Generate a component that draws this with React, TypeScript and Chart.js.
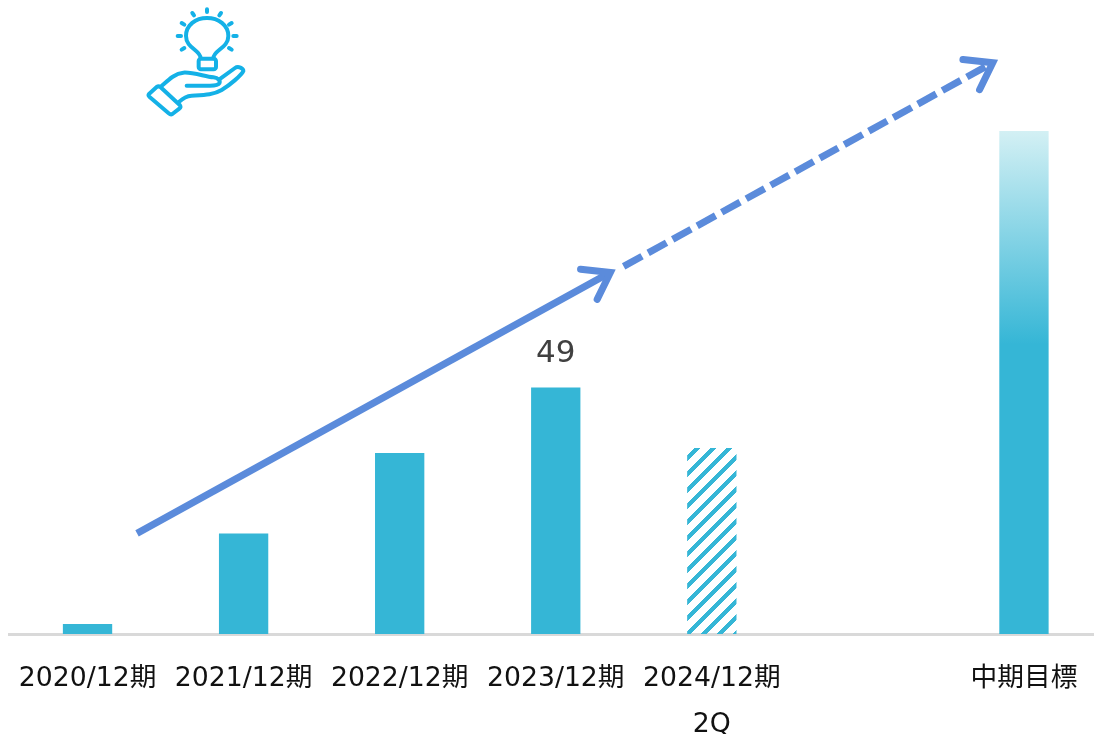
import React, { useEffect, useRef } from "react";
import { Chart, registerables } from "chart.js";

Chart.register(...registerables);

const categories: (string | string[])[] = [
  "2020/12期",
  "2021/12期",
  "2022/12期",
  "2023/12期",
  ["2024/12期", "2Q"],
  "",
  "中期目標",
];
const barValues = [2, 20, 36, 49, 37, null, 100];
const valueLabels = [null, null, null, "49", null, null, null];
const hatchedIndex = 4;
const fadedIndex = 6;
const fadeStartValue = 57.6;

// Trend arrows in axis units: [category position, value]
const solidArrow = [[0.317, 20], [3.35, 71.9]];
const dashedArrow = [[3.435, 73.1], [5.8, 113.6]];

const BAR_COLOR = "#35B6D6";
const BAR_FADE_COLOR = "#D3F0F4";
const ARROW_COLOR = "#5B8BDB";
const FONT = '"DejaVu Sans", "Noto Sans CJK JP", sans-serif';

// Diagonal stripes, painted pixel by pixel so the edges stay stepped
function makeHatch(ctx: CanvasRenderingContext2D) {
  const size = 16;
  const tile = document.createElement("canvas");
  tile.width = size;
  tile.height = size;
  const t = tile.getContext("2d")!;
  t.fillStyle = BAR_COLOR;
  for (let y = 0; y < size; y++) {
    for (let x = 0; x < size; x++) {
      if ((x + y + 10) % size < 6) t.fillRect(x, y, 1, 1);
    }
  }
  return ctx.createPattern(tile, "repeat");
}

const arrowPlugin = {
  id: "trendArrows",
  afterDatasetsDraw(chart: any) {
    const { ctx, scales } = chart;
    const draw = (pts: number[][], dash: number[]) => {
      const x0 = scales.x.getPixelForValue(pts[0][0]);
      const y0 = scales.y.getPixelForValue(pts[0][1]);
      const x1 = scales.x.getPixelForValue(pts[1][0]);
      const y1 = scales.y.getPixelForValue(pts[1][1]);
      const back = Math.atan2(y0 - y1, x0 - x1);
      const spread = (35 * Math.PI) / 180;
      const barb = 30;
      ctx.save();
      ctx.strokeStyle = ARROW_COLOR;
      ctx.lineWidth = 7;
      ctx.setLineDash(dash);
      ctx.lineCap = "butt";
      ctx.beginPath();
      ctx.moveTo(x0, y0);
      ctx.lineTo(x1 + 2 * Math.cos(back), y1 + 2 * Math.sin(back));
      ctx.stroke();
      ctx.setLineDash([]);
      ctx.lineCap = "round";
      ctx.lineJoin = "miter";
      ctx.beginPath();
      ctx.moveTo(x1 + barb * Math.cos(back + spread), y1 + barb * Math.sin(back + spread));
      ctx.lineTo(x1, y1);
      ctx.lineTo(x1 + barb * Math.cos(back - spread), y1 + barb * Math.sin(back - spread));
      ctx.stroke();
      ctx.restore();
    };
    draw(solidArrow, []);
    draw(dashedArrow, [21, 7]);
  },
};

const valueLabelPlugin = {
  id: "valueLabels",
  afterDatasetsDraw(chart: any) {
    const { ctx } = chart;
    const bars = chart.getDatasetMeta(0).data;
    ctx.save();
    ctx.font = `31px ${FONT}`;
    ctx.fillStyle = "#404040";
    ctx.textAlign = "center";
    ctx.textBaseline = "middle";
    valueLabels.forEach((text, i) => {
      if (text) ctx.fillText(text, bars[i].x, bars[i].y - 34);
    });
    ctx.restore();
  },
};

function App() {
  const ref = useRef<HTMLCanvasElement>(null);

  useEffect(() => {
    const chart = new Chart(ref.current!, {
      type: "bar",
      data: {
        labels: categories as any,
        datasets: [
          {
            data: barValues,
            barPercentage: 0.316,
            categoryPercentage: 1,
            borderWidth: 0,
            backgroundColor: (c: any) => {
              const { ctx, scales } = c.chart;
              if (c.dataIndex === hatchedIndex) return makeHatch(ctx);
              if (c.dataIndex === fadedIndex && scales.y) {
                const g = ctx.createLinearGradient(
                  0,
                  scales.y.getPixelForValue(100),
                  0,
                  scales.y.getPixelForValue(fadeStartValue),
                );
                g.addColorStop(0, BAR_FADE_COLOR);
                g.addColorStop(1, BAR_COLOR);
                return g;
              }
              return BAR_COLOR;
            },
          },
        ],
      },
      options: {
        responsive: false,
        animation: false,
        layout: { padding: { left: 9.5, right: 0, top: 5.4, bottom: 0 } },
        plugins: { legend: { display: false }, tooltip: { enabled: false } },
        scales: {
          x: {
            grid: { display: false },
            border: { color: "#D9D9D9", width: 3 },
            afterFit: (scale: any) => {
              scale.height = 100;
            },
            ticks: {
              autoSkip: false,
              maxRotation: 0,
              minRotation: 0,
              padding: 15,
              color: "#111111",
              font: { family: FONT, size: 26.7, lineHeight: 1.69 },
            },
          },
          y: { display: false, min: 0, max: 125 },
        },
      },
      plugins: [arrowPlugin, valueLabelPlugin],
    } as any);
    return () => chart.destroy();
  }, []);

  return (
    <div style={{ position: "fixed", left: 0, top: 0, width: 1094, height: 734, overflow: "hidden", background: "#fff" }}>
      <canvas ref={ref} width={1102} height={734} style={{ display: "block" }} />
      <svg
        viewBox="0 0 390 375"
        width={130}
        height={125}
        style={{ position: "absolute", left: 130, top: 0 }}
        fill="none"
        stroke="#14B1E7"
        strokeWidth={12}
        strokeLinecap="round"
        strokeLinejoin="round"
      >
        <path d="M212 175 C212 150 168 145 168 108 C168 75 197 54 231 54 C265 54 295 75 295 108 C295 145 250 150 250 175" />
        <rect x="206" y="176" width="52" height="32" rx="7" />
        <path d="M231 28 V36 M187 39 L192 46 M273 39 L268 46 M155 69 L163 74 M305 69 L297 74 M143 108 H153 M320 108 H310 M155 149 L163 144 M305 149 L297 144" />
        <path d="M57 282 L80 261 Q86 257 92 262 L150 316 Q154 322 148 326 L127 342 Q122 345 116 340 L58 290 Q54 286 57 282 Z" />
        <path d="M95 258 C115 240 135 220 160 218 C190 216 225 230 250 232 C265 234 272 242 268 250 C264 257 250 257 240 257 H170" />
        <path d="M268 238 L315 204 C325 197 340 205 340 213 C335 225 300 255 275 270 C250 285 220 285 185 287 C170 288 158 295 148 305" />
      </svg>
    </div>
  );
}

export default App;
